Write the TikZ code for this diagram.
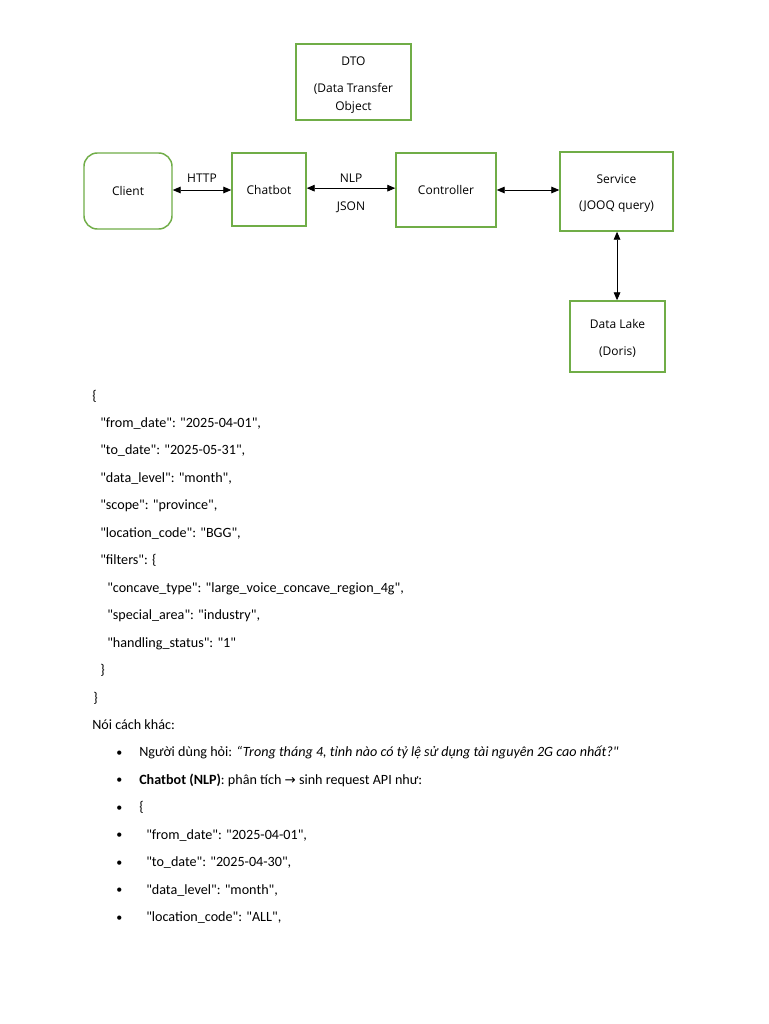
\documentclass[tikz,border=0pt]{standalone}
\usepackage{fontspec}
\setmainfont{Carlito}[Ligatures=TeXOff]
\newfontfamily\diag{Open Sans}
\newfontfamily\sym{DejaVu Sans}
\usetikzlibrary{arrows.meta}
\definecolor{boxgreen}{RGB}{112,173,71}
\begin{document}
\begin{tikzpicture}[x=0.75pt,y=-0.75pt,
  box/.style={draw=boxgreen, line width=1.1pt, inner sep=0pt, align=center,
    font=\diag\fontsize{9}{13.5}\selectfont},
  arr/.style={draw=black, line width=0.7pt, {Triangle[length=6pt,width=5pt]}-{Triangle[length=6pt,width=5pt]}},
  lbl/.style={font=\diag\fontsize{9}{11}\selectfont, inner sep=0pt},
  txt/.style={anchor=base west, inner sep=0pt, font=\fontsize{10.6}{13}\selectfont}]
\useasboundingbox[fill=white] (0,0) rectangle (768,1024);

% boxes
\node[box, minimum width=86.25pt, minimum height=57pt] (dto) at (353.5,82)
  {\rule{0pt}{11pt}DTO\\[6.75pt](Data Transfer\\Object};
\node[box, rounded corners=10pt, minimum width=66pt, minimum height=57pt] (client) at (128,191) {Client};
\node[box, minimum width=55.5pt, minimum height=54.75pt] (chatbot) at (269,189.5) {Chatbot};
\node[box, minimum width=75pt, minimum height=55.5pt] (controller) at (446,190) {Controller};
\node[box, minimum width=84.75pt, minimum height=59.25pt] (service) at (616.5,191.5)
  {\rule{0pt}{9.5pt}Service\\[6pt](JOOQ query)};
\node[box, minimum width=71.25pt, minimum height=53.25pt] (lake) at (617.5,336.5)
  {\rule{0pt}{9.5pt}Data Lake\\[6.75pt](Doris)};

% connectors
\draw[arr] ([yshift=0.75pt]client.east) -- node[lbl, yshift=9pt] (lhttp) {HTTP} ([yshift=0.75pt]client.east -| chatbot.west);
\draw[arr] ([yshift=1pt]chatbot.east) -- node[lbl, yshift=7.5pt] (lnlp) {NLP}
  node[lbl, yshift=-14pt] (ljson) {JSON} ([yshift=1pt]chatbot.east -| controller.west);
\draw[arr] (controller.east) -- (controller.east -| service.west);
\draw[arr] ([xshift=0.4pt]service.south) -- ([xshift=0.4pt]service.south |- lake.north);

% JSON text
\node[txt] (t1) at (92,400) {\{};
\node[txt] (t2) at (100,427.5) {"from\_date": "2025-04-01",};
\node[txt] (t3) at (100,454.9) {"to\_date": "2025-05-31",};
\node[txt] (t4) at (100,482.4) {"data\_level": "month",};
\node[txt] (t5) at (100,509.8) {"scope": "province",};
\node[txt] (t6) at (100,537.3) {"location\_code": "BGG",};
\node[txt] (t7) at (100,564.7) {"filters": \{};
\node[txt] (t8) at (107,592.2) {"concave\_type": "large\_voice\_concave\_region\_4g",};
\node[txt] (t9) at (107,619.6) {"special\_area": "industry",};
\node[txt] (t10) at (107,647.1) {"handling\_status": "1"};
\node[txt] (t11) at (100,674.5) {\}};
\node[txt] (t12) at (93,702) {\}};
\node[txt] (t13) at (92,729.4) {Nói cách khác:};

% bullets
\foreach \y [count=\i] in {756.9,784.3,811.8,839.2,866.7,894.1,921.6}
  \node[txt, font=\fontsize{9}{11}\selectfont] (b\i) at (116,\y-0.5) {•};
\node[txt] (u1) at (139,756.9) {Người dùng hỏi: \textit{“Trong tháng 4, tỉnh nào có tỷ lệ sử dụng tài nguyên 2G cao nhất?"}};
\node[txt] (u2) at (139,784.3) {\textbf{Chatbot (NLP)}: phân tích {\sym\fontsize{10}{11}\selectfont →} sinh request API như:};
\node[txt] (u3) at (139,811.8) {\{};
\node[txt] (u4) at (146,839.2) {"from\_date": "2025-04-01",};
\node[txt] (u5) at (146,866.7) {"to\_date": "2025-04-30",};
\node[txt] (u6) at (146,894.1) {"data\_level": "month",};
\node[txt] (u7) at (146,921.6) {"location\_code": "ALL",};
\end{tikzpicture}
\end{document}
